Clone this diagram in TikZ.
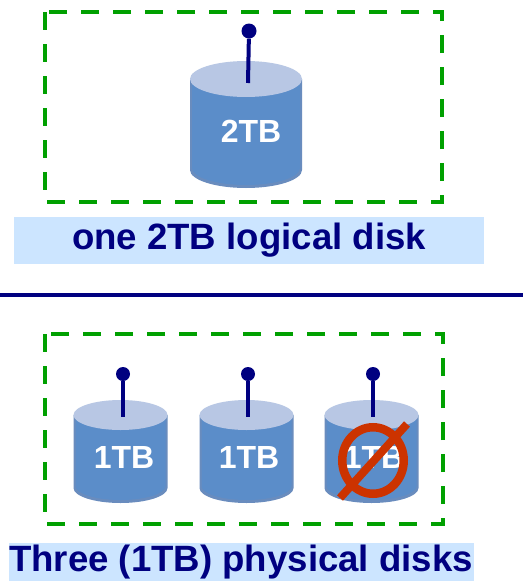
\documentclass[tikz,border=0pt]{standalone}
\usepackage{fontspec}
\setmainfont{Liberation Sans}
\definecolor{navyc}{RGB}{0,0,128}
\definecolor{greenc}{RGB}{0,160,0}
\definecolor{labelbg}{RGB}{204,229,255}
\definecolor{diskbody}{RGB}{91,141,201}
\definecolor{diskedge}{RGB}{105,140,190}
\definecolor{disktop}{RGB}{184,199,228}
\definecolor{redc}{RGB}{204,51,0}
\newcommand{\diskdraw}[5]{% cx, ytopcentre, ybottomcentre, rx, ry
  \fill[diskedge] (#1-#4,#2) -- (#1-#4,#3) arc[start angle=180,end angle=0,x radius=#4,y radius=#5] -- (#1+#4,#2) -- cycle;
  \fill[diskbody] (#1-#4+2,#2) -- (#1-#4+2,#3-2) arc[start angle=180,end angle=0,x radius=#4-2,y radius=#5-1] -- (#1+#4-2,#2) -- cycle;
  \fill[disktop] (#1,#2) ellipse[x radius=#4,y radius=#5];
}
\tikzset{
  frame/.style={draw=greenc,line width=3.2pt,dash pattern=on 18pt off 14pt},
  caption/.style={fill=labelbg,text=navyc,font=\bfseries\fontsize{36.6}{38}\selectfont,inner sep=0pt,align=center},
  disklabel/.style={text=white,font=\bfseries\fontsize{32}{34}\selectfont,inner sep=0pt},
  pin/.style={draw=navyc,line width=4pt},
  ball/.style={circle,fill=navyc,inner sep=0pt},
}
\begin{document}
\begin{tikzpicture}[x=1pt,y=-1pt]
\useasboundingbox (0,0) rectangle (523,581);
\fill[white] (0,0) rectangle (523,581);
% frames
\draw[frame] (45,12) rectangle (442,202);
\draw[frame] (45,334) rectangle (443,524);
% captions
\node[caption,minimum width=470pt,minimum height=47pt] (cap1) at (249,240) {one 2TB logical disk};
\node[caption,minimum width=465pt,minimum height=38pt] (cap2) at (241,562) {Three (1TB) physical disks};
% divider
\coordinate (divl) at (0,295);
\coordinate (divr) at (523,295);
\draw[navyc,line width=3.4pt] (divl) -- (divr);
% large disk
\diskdraw{246}{79}{170}{56}{18}
\node[ball,minimum size=15pt] (b1) at (249,31) {};
\coordinate (e1) at (248,83);
\draw[pin] (b1) -- (e1);
\node[disklabel] (t1) at (251,131) {2TB};
% small disks
\diskdraw{120.5}{415}{488}{47}{15}
\node[ball,minimum size=14pt] (b2) at (123,374) {};
\coordinate (e2) at (123,417);
\draw[pin] (b2) -- (e2);
\node[disklabel] (t2) at (124,457) {1TB};
\diskdraw{246.5}{415}{488}{47}{15}
\node[ball,minimum size=14pt] (b3) at (248,374) {};
\coordinate (e3) at (248,417);
\draw[pin] (b3) -- (e3);
\node[disklabel] (t3) at (249,457) {1TB};
\diskdraw{371.5}{415}{488}{47}{15}
\node[ball,minimum size=14pt] (b4) at (373,374) {};
\coordinate (e4) at (373,417);
\draw[pin] (b4) -- (e4);
\node[disklabel] (t4) at (374,457) {1TB};
% no sign
\draw[redc,line width=8.5pt] (373,460.5) ellipse[x radius=30.75,y radius=33.25];
\coordinate (n1) at (340,498);
\coordinate (n2) at (407,424);
\draw[redc,line width=8pt] (n1) -- (n2);
\end{tikzpicture}
\end{document}
